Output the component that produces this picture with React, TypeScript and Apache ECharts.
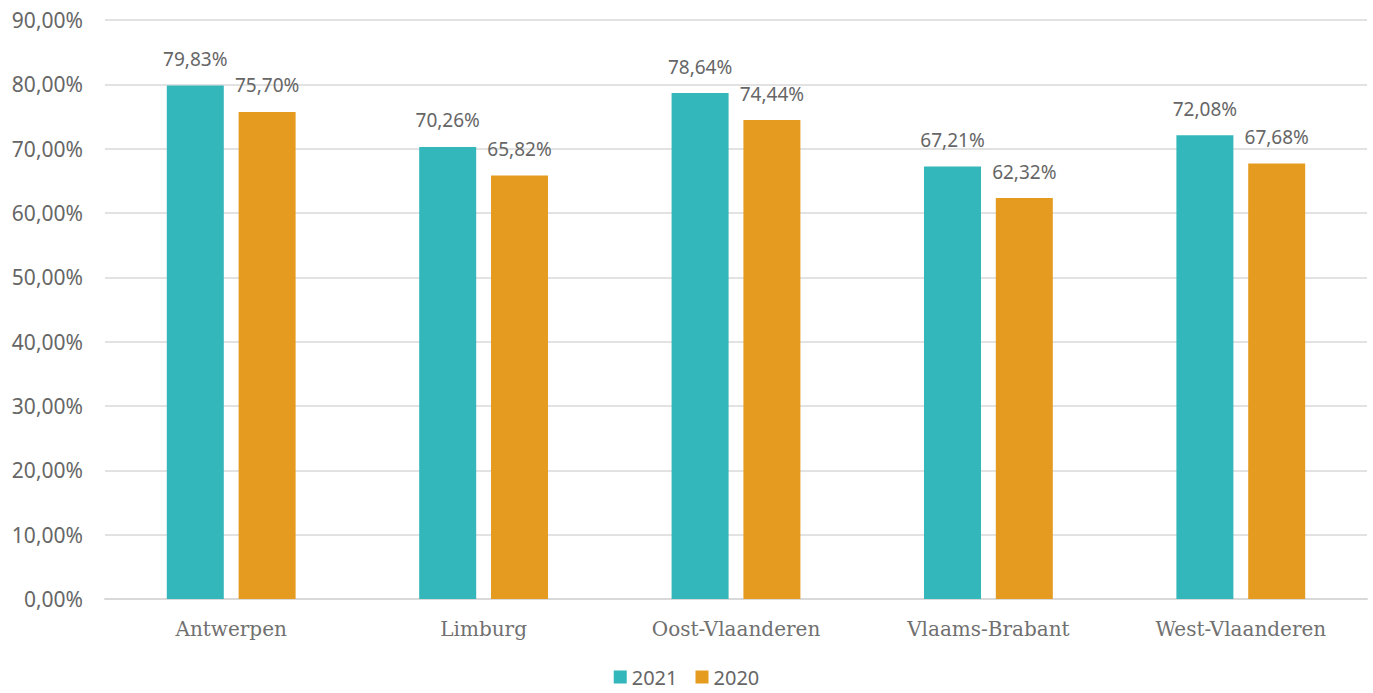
import React, { useEffect, useRef } from "react";
import * as echarts from "echarts";

const categories = ["Antwerpen", "Limburg", "Oost-Vlaanderen", "Vlaams-Brabant", "West-Vlaanderen"];
const values2021 = [79.83, 70.26, 78.64, 67.21, 72.08];
const values2020 = [75.7, 65.82, 74.44, 62.32, 67.68];

const fmt = (v: number) => v.toFixed(2).replace(".", ",") + "%";

export default function App() {
  const ref = useRef<HTMLDivElement>(null);
  useEffect(() => {
    const chart = echarts.init(ref.current!, undefined, { renderer: "svg" });
    const labelStyle = {
      show: true,
      position: "top",
      distance: 17,
      fontFamily: "Noto Sans",
      fontSize: 19,
      color: "#666666",
      formatter: (p: any) => fmt(p.value),
    };
    chart.setOption({
      animation: false,
      grid: { left: 105, right: 6, top: 20, bottom: 94 },
      legend: {
        bottom: 0,
        left: "center",
        itemWidth: 13,
        itemHeight: 13,
        itemGap: 18,
        icon: "rect",
        textStyle: { fontFamily: "Noto Sans", fontSize: 20, lineHeight: 22, color: "#666666" },
        data: ["2021", "2020"],
      },
      xAxis: {
        type: "category",
        data: categories,
        axisLine: { lineStyle: { color: "#d9d9d9", width: 2 } },
        axisTick: { show: false },
        axisLabel: { fontFamily: "DejaVu Serif", fontSize: 20, color: "#707070", margin: 20 },
      },
      yAxis: {
        type: "value",
        min: 0,
        max: 90,
        interval: 10,
        axisLine: { show: false },
        axisTick: { show: false },
        splitLine: { lineStyle: { color: "#d9d9d9", width: 1.5 } },
        axisLabel: {
          fontFamily: "Noto Sans",
          fontSize: 21,
          color: "#666666",
          margin: 22,
          formatter: (v: number) => fmt(v),
        },
      },
      series: [
        {
          name: "2021",
          type: "bar",
          data: values2021,
          barWidth: 57,
          barGap: "26%",
          itemStyle: { color: "#33B7BA" },
          label: labelStyle,
        },
        {
          name: "2020",
          type: "bar",
          data: values2020,
          barWidth: 57,
          itemStyle: { color: "#E59B20" },
          label: labelStyle,
        },
      ],
    });
    return () => chart.dispose();
  }, []);
  return <div ref={ref} style={{ width: 1373, height: 693, position: "absolute", left: 0, top: 0 }} />;
}
